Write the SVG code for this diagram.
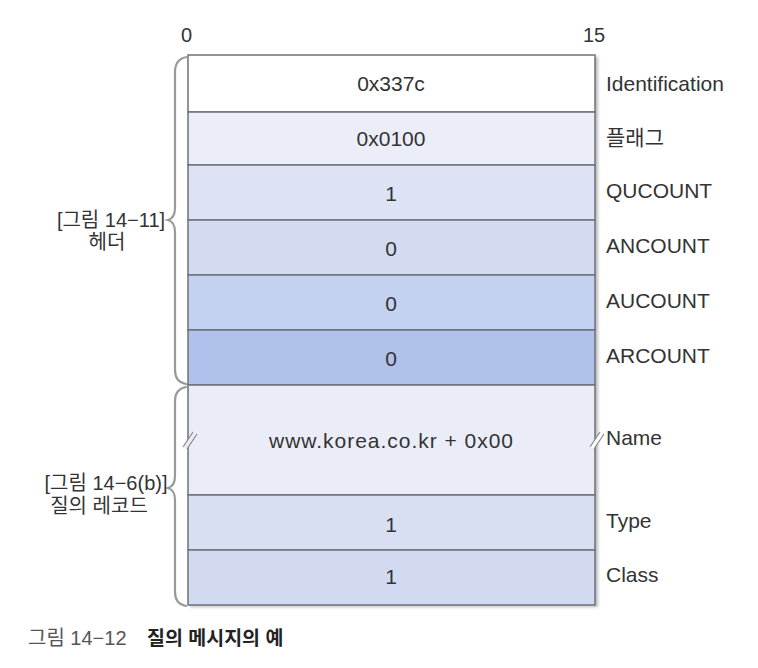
<svg xmlns="http://www.w3.org/2000/svg" width="758" height="668" viewBox="0 0 758 668">
<defs>
<style>
text{font-family:"Liberation Sans","Noto Sans CJK KR",sans-serif;fill:#333;font-size:21px}
.v{text-anchor:middle}
.l{text-anchor:start}
.c{text-anchor:middle;font-size:20px}
.cell{stroke:#6f7278;stroke-width:1.5}
.brace{fill:none;stroke:#9a9a9a;stroke-width:2.2;stroke-linecap:round}
.brk{stroke:#888;stroke-width:1.2}
</style>
<filter id="sh" x="-5%" y="-5%" width="110%" height="110%">
<feGaussianBlur stdDeviation="1.5"/>
</filter>
</defs>
<rect width="758" height="668" fill="#fff"/>
<text x="186.5" y="42" class="c">0</text>
<text x="594" y="42" class="c">15</text>
<rect x="190" y="57" width="408" height="550" fill="#bbb" filter="url(#sh)"/>
<g id="n-identification"><rect class="cell" x="188" y="55" width="407" height="57" fill="#ffffff"/><text class="v" x="391" y="91">0x337c</text><text class="l" x="606" y="91">Identification</text></g>
<g id="n-flag"><rect class="cell" x="188" y="112" width="407" height="53" fill="#ebeef8"/><text class="v" x="391" y="146">0x0100</text><text class="l" x="606" y="145">플래그</text></g>
<g id="n-qucount"><rect class="cell" x="188" y="165" width="407" height="55" fill="#dde3f4"/><text class="v" x="391" y="201">1</text><text class="l" x="606" y="198">QUCOUNT</text></g>
<g id="n-ancount"><rect class="cell" x="188" y="220" width="407" height="55" fill="#d3dbf1"/><text class="v" x="391" y="256">0</text><text class="l" x="606" y="253">ANCOUNT</text></g>
<g id="n-aucount"><rect class="cell" x="188" y="275" width="407" height="55" fill="#c4d1f0"/><text class="v" x="391" y="311">0</text><text class="l" x="606" y="308">AUCOUNT</text></g>
<g id="n-arcount"><rect class="cell" x="188" y="330" width="407" height="55" fill="#b0c2ec"/><text class="v" x="391" y="366">0</text><text class="l" x="606" y="363">ARCOUNT</text></g>
<g id="n-name"><rect class="cell" x="188" y="385" width="407" height="110" fill="#eaedf8"/><text class="v" x="391" y="448" textLength="244" lengthAdjust="spacing">www.korea.co.kr + 0x00</text><text class="l" x="606" y="445">Name</text></g>
<g id="n-type"><rect class="cell" x="188" y="495" width="407" height="55" fill="#d9dff3"/><text class="v" x="391" y="532">1</text><text class="l" x="606" y="528">Type</text></g>
<g id="n-class"><rect class="cell" x="188" y="550" width="407" height="55" fill="#d2daf1"/><text class="v" x="391" y="584">1</text><text class="l" x="606" y="582">Class</text></g>
<g id="connectors">
<path class="brace" d="M187,57 Q175,59 175,72 L175,208 Q175,218 168,220 Q175,222 175,232 L175,370 Q175,382 186,384"/>
<path class="brace" d="M186,387 Q175,389 175,401 L175,476 Q175,486 168,488 Q175,490 175,500 L175,592 Q175,604 186,606"/>
<g id="break-left"><path d="M183,447 L193,432 L197,434 L187,449 Z" fill="#eaedf8"/><line class="brk" x1="183" y1="447" x2="193" y2="432"/><line class="brk" x1="187" y1="449" x2="197" y2="434"/></g>
<g id="break-right"><path d="M590,447 L600,432 L604,434 L594,449 Z" fill="#fff"/><line class="brk" x1="590" y1="447" x2="600" y2="432"/><line class="brk" x1="594" y1="449" x2="604" y2="434"/></g>
</g>
<g id="n-header-label"><text class="c" x="111" y="227">[그림 14−11]</text><text class="c" x="107" y="249">헤더</text></g>
<g id="n-query-label"><text class="c" x="106" y="490">[그림 14−6(b)]</text><text class="c" x="99" y="513">질의 레코드</text></g>
<g id="caption"><text x="28" y="645" style="fill:#555;font-size:20px">그림 14−12</text><text x="147" y="645" style="font-weight:bold;fill:#222;font-size:19.5px">질의 메시지의 예</text></g>
</svg>
